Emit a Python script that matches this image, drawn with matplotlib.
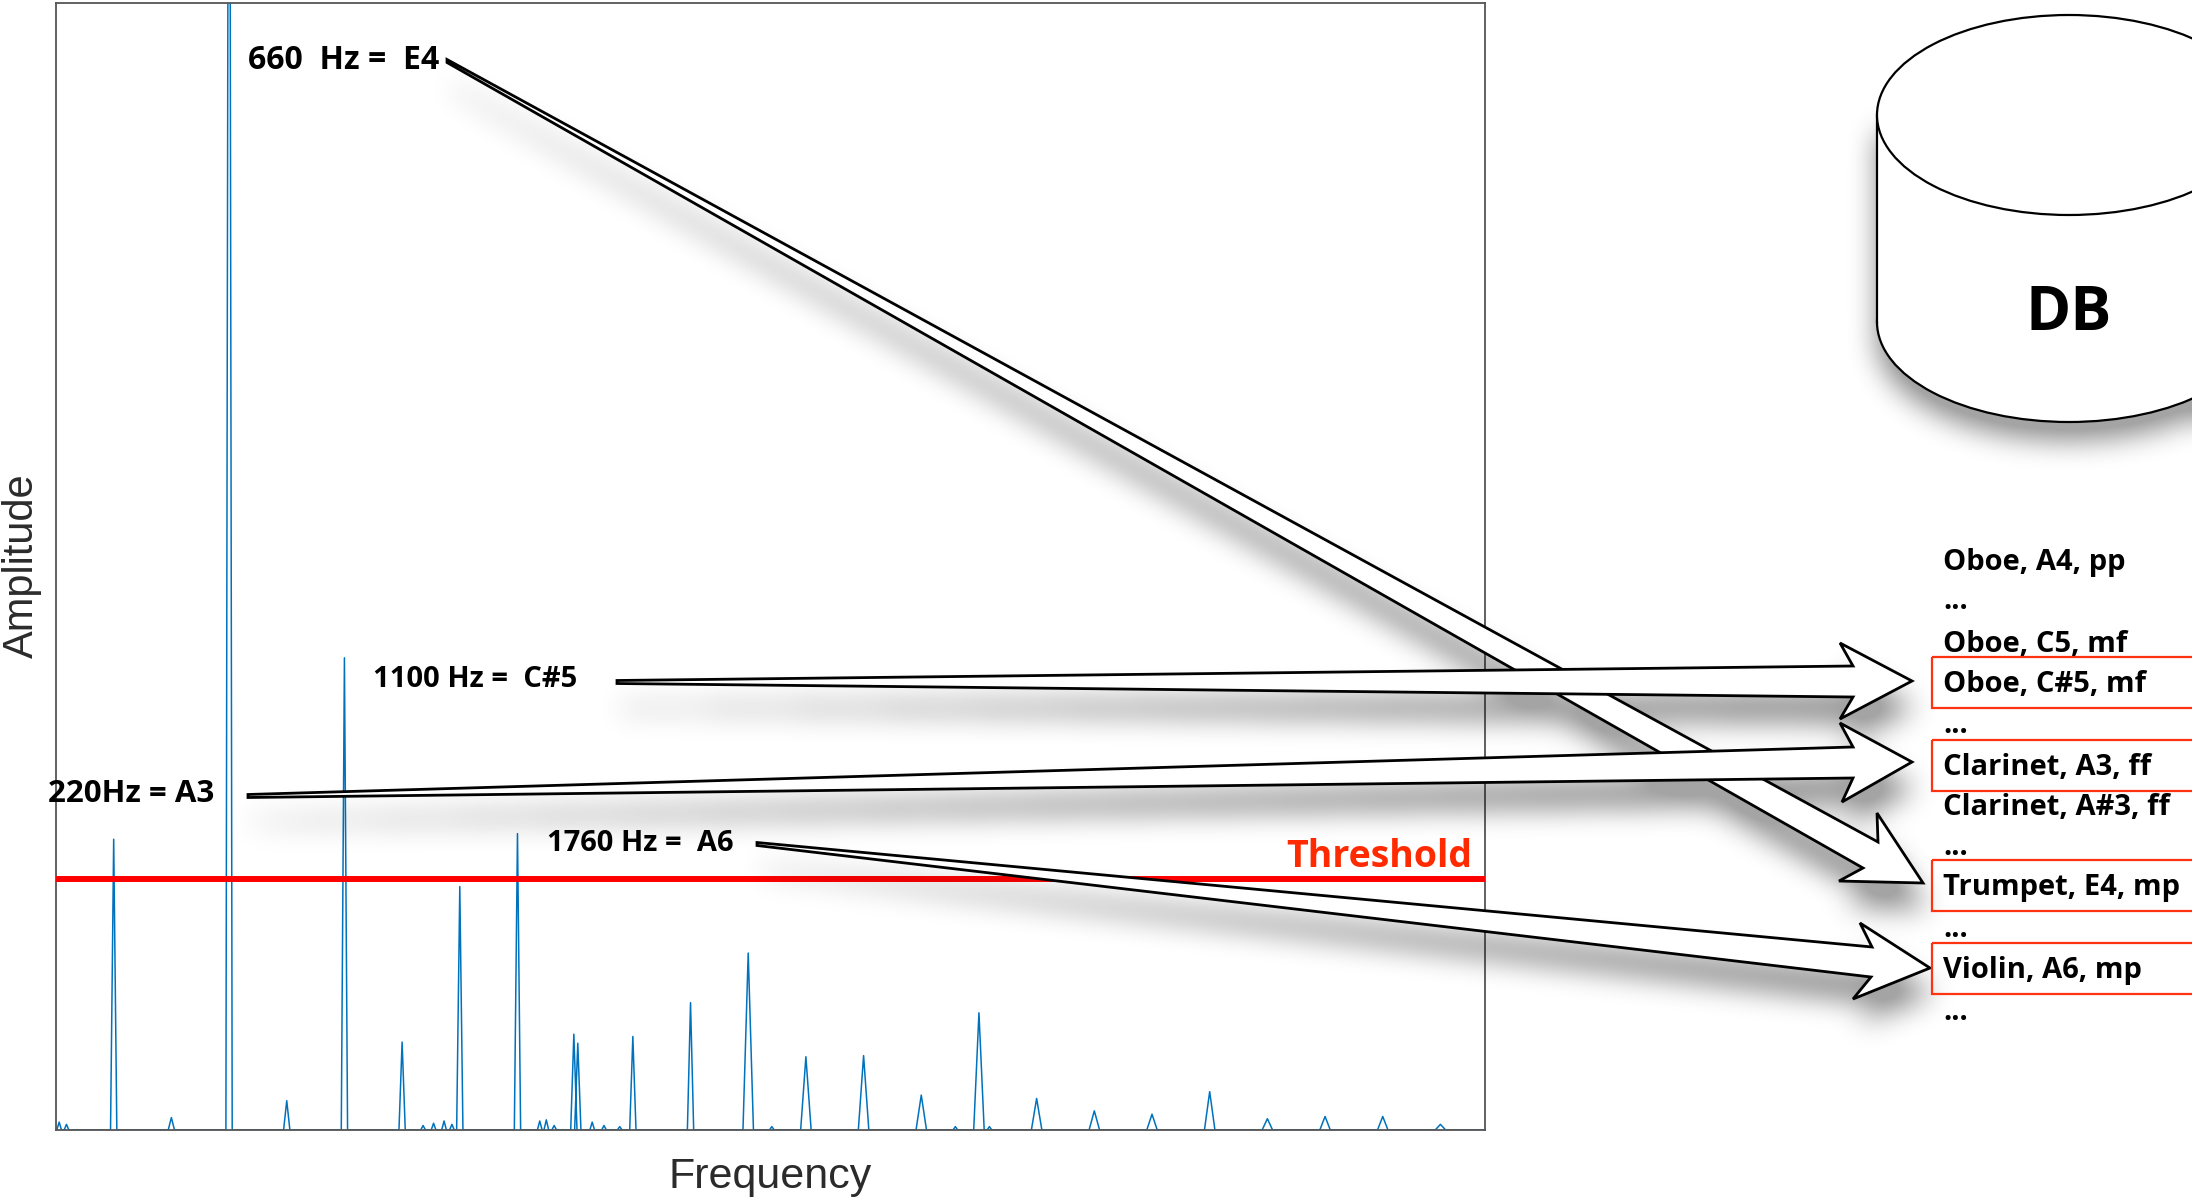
import numpy as np
import matplotlib
matplotlib.use("Agg")
import matplotlib.pyplot as plt
from matplotlib.patches import Polygon, Ellipse, Rectangle
from matplotlib.path import Path

# ---------------- data ----------------
peak_freqs = [220, 440, 660, 880, 1100, 1320, 1540, 1760, 1975, 1990, 2200, 2420,
              2640, 2860, 3080, 3300, 3520, 3740, 3960, 4180, 4400, 4620, 4840,
              5060, 5280]
peak_amps = [0.258, 0.011, 1.60, 0.026, 0.419, 0.078, 0.216, 0.263, 0.085, 0.077,
             0.083, 0.113, 0.157, 0.065, 0.066, 0.031, 0.104, 0.028, 0.017, 0.014,
             0.034, 0.010, 0.012, 0.012, 0.005]
noise_freqs = [12, 40, 1400, 1440, 1480, 1510, 1845, 1870, 1900, 2045, 2090, 2150,
               2730, 3430, 3560]
noise_amps = [0.007, 0.005, 0.004, 0.006, 0.008, 0.005, 0.008, 0.009, 0.004, 0.007,
              0.004, 0.003, 0.003, 0.003, 0.003]
threshold = 0.223
freq_max = 5450

note_labels = ["660  Hz =  E4", "1100 Hz =  C#5", "220Hz = A3", "1760 Hz =  A6"]
db_entries = ["Oboe, A4, pp", "...", "Oboe, C5, mf", "Oboe, C#5, mf", "...",
              "Clarinet, A3, ff", "Clarinet, A#3, ff", "...", "Trumpet, E4, mp",
              "...", "Violin, A6, mp", "..."]
matched_entries = ["Oboe, C#5, mf", "Clarinet, A3, ff", "Trumpet, E4, mp",
                   "Violin, A6, mp"]

# ---------------- figure ----------------
W, H = 2192, 1203
fig = plt.figure(figsize=(W / 100, H / 100), dpi=100)
fig.patch.set_facecolor("white")

ax = fig.add_axes([56 / W, 1 - 1130 / H, (1485 - 56) / W, (1130 - 3) / H])
items = sorted([(f, a, 12 if f < 2500 else 20) for f, a in zip(peak_freqs, peak_amps)] +
               [(f, a, 9) for f, a in zip(noise_freqs, noise_amps)])
xs, ys = [0.0], [0.0]
for f, a, w in items:
    xs += [f - w, f, f + w]
    ys += [0.0, a, 0.0]
xs.append(freq_max)
ys.append(0.0)
ax.plot(xs, ys, color="#0072BD", lw=1.1, zorder=2)
ax.axhline(threshold, color="#FF0000", lw=4.3, zorder=3)
ax.set_xlim(0, freq_max)
ax.set_ylim(0, 1)
ax.set_xticks([])
ax.set_yticks([])
for s in ax.spines.values():
    s.set_color("#555555")
    s.set_linewidth(1.3)

# ---------------- overlay (pixel coords) ----------------
ov = fig.add_axes([0, 0, 1, 1])
ov.set_xlim(0, W)
ov.set_ylim(H, 0)
ov.axis("off")
ov.patch.set_alpha(0)

BOLD = dict(family=["Open Sans", "DejaVu Sans"], fontweight="bold")

# label anchors: (left x, baseline y, font size)
label_pos = [(248, 69, 23), (373, 687, 21), (48, 802, 22.5), (547, 851, 21)]
# arrow geometry: tail, shaft-upper, corner-upper, tip, corner-lower, shaft-lower
arrows = [
    [(447, 61), (1878, 842), (1877, 813), (1923, 883), (1839, 881), (1863, 868)],
    [(617, 682), (1853, 666), (1840, 643), (1912, 681), (1840, 719), (1853, 697)],
    [(248, 796), (1853, 747), (1840, 723), (1912, 762), (1842, 802), (1853, 778)],
    [(757, 844), (1872, 947), (1860, 923), (1930, 968), (1853, 999), (1871, 977)],
]


def arrow_poly(a):
    (tx, ty), sU, cU, T, cL, sL = a
    return [(tx, ty - 1.5), sU, cU, T, cL, sL, (tx, ty + 1.5)]


# cylinder geometry
cx, rx = 2069, 192
top_cy, bot_cy, ry = 115, 322, 100

# ---- shadows ----
mask = np.zeros((H, W), dtype=float)


def poly_mask(m, verts, dx, dy):
    v = np.asarray(verts, float) + [dx, dy]
    x0, y0 = np.floor(v.min(0)).astype(int)
    x1, y1 = np.ceil(v.max(0)).astype(int)
    x0, y0 = max(x0, 0), max(y0, 0)
    x1, y1 = min(x1, W), min(y1, H)
    gy, gx = np.mgrid[y0:y1, x0:x1]
    pts = np.column_stack([gx.ravel() + 0.5, gy.ravel() + 0.5])
    ins = Path(v).contains_points(pts).reshape(gy.shape)
    m[y0:y1, x0:x1] = np.maximum(m[y0:y1, x0:x1], ins)


for a in arrows:
    poly_mask(mask, arrow_poly(a), 4, 26)

gy, gx = np.mgrid[0:H, 0:W] + 0.5
cyl = ((gx - cx) / rx) ** 2 + ((gy - (bot_cy + 18)) / ry) ** 2 <= 1
cyl |= (np.abs(gx - cx) <= rx) & (gy >= top_cy + 18) & (gy <= bot_cy + 18)
mask = np.maximum(mask, cyl.astype(float))


def blur1d(a, r, axis):
    a = np.moveaxis(a, axis, -1)
    p = np.pad(a, [(0, 0), (r + 1, r)], mode="edge")
    c = np.cumsum(p, axis=-1)
    out = (c[:, 2 * r + 1:] - c[:, :-2 * r - 1]) / (2 * r + 1)
    return np.moveaxis(out, -1, axis)


for _ in range(3):
    mask = blur1d(mask, 13, 1)
    mask = blur1d(mask, 13, 0)

shadow = np.zeros((H, W, 4))
shadow[..., 3] = np.clip(mask * 1.3, 0, 1) * 0.36
ov.imshow(shadow, extent=[0, W, H, 0], origin="upper", aspect="auto",
          interpolation="bilinear", zorder=1)
ov.set_xlim(0, W)
ov.set_ylim(H, 0)

# ---- arrows ----
for i, a in enumerate(arrows):
    ov.add_patch(Polygon(arrow_poly(a), closed=True, facecolor="white",
                         edgecolor="black", lw=2.0, joinstyle="miter",
                         zorder=3 + i * 0.1))

# ---- note labels ----
for txt, (x, y, fs) in zip(note_labels, label_pos):
    ov.text(x, y, txt, fontsize=fs, color="black", ha="left", va="baseline",
            zorder=5, **BOLD)

ov.text(1472, 867, "Threshold", fontsize=27, color="#FF2A00", ha="right",
        va="baseline", zorder=5, **BOLD)

# ---- axis labels ----
LIGHT = dict(family=["Liberation Sans", "DejaVu Sans"])
ov.text(770, 1188, "Frequency", fontsize=31, color="#2b2b2b", ha="center",
        va="baseline", zorder=5, **LIGHT)
ov.text(22, 566, "Amplitude", fontsize=30, color="#2b2b2b", ha="center",
        va="center", rotation=90, zorder=5, **LIGHT)

# ---- DB cylinder ----
ov.add_patch(Ellipse((cx, bot_cy), 2 * rx, 2 * ry, facecolor="white",
                     edgecolor="black", lw=1.6, zorder=6))
ov.add_patch(Rectangle((cx - rx, top_cy), 2 * rx, bot_cy - top_cy,
                       facecolor="white", edgecolor="none", zorder=6.1))
ov.plot([cx - rx, cx - rx], [top_cy, bot_cy], color="black", lw=1.6, zorder=6.2)
ov.plot([cx + rx, cx + rx], [top_cy, bot_cy], color="black", lw=1.6, zorder=6.2)
ov.add_patch(Ellipse((cx, top_cy), 2 * rx, 2 * ry, facecolor="white",
                     edgecolor="black", lw=1.6, zorder=6.3))
ov.text(cx, 330, "DB", fontsize=44, color="black", ha="center", va="baseline",
        zorder=7, **BOLD)

# ---- DB entry list ----
baselines = [570, 609, 652, 692, 733, 775, 815, 855, 895, 937, 978, 1020]
for txt, yb in zip(db_entries, baselines):
    ov.text(1943, yb, txt, fontsize=21, color="black", ha="left",
            va="baseline", zorder=7, **BOLD)
    if txt in matched_entries:
        ov.add_patch(Rectangle((1932, yb - 35), 300, 51, facecolor="none",
                               edgecolor="#FF3311", lw=1.6, zorder=7))

fig.savefig("out.png", dpi=100, facecolor="white")
